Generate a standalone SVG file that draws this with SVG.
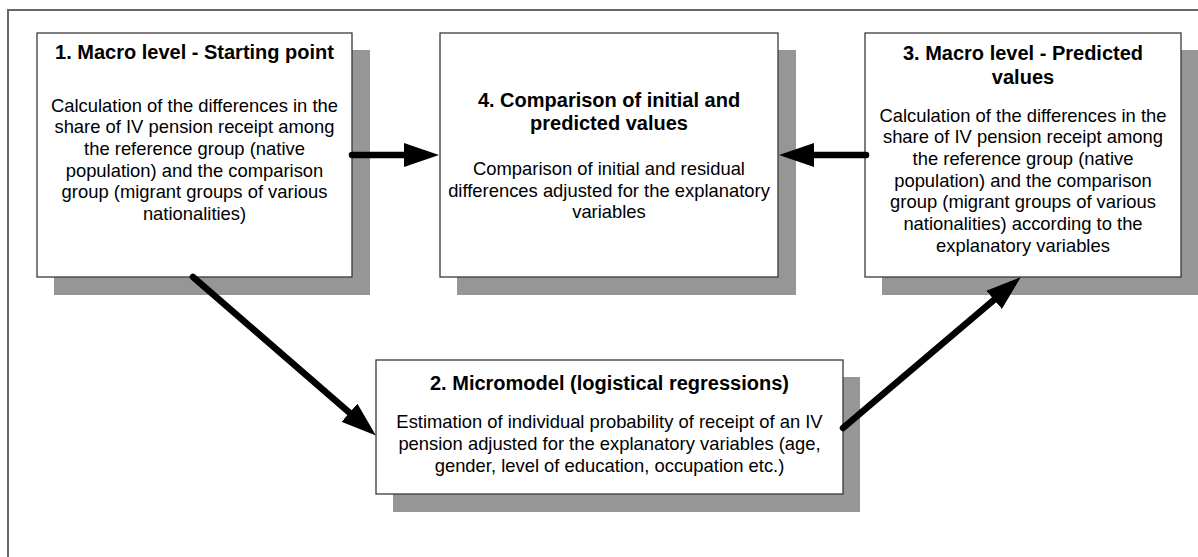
<svg xmlns="http://www.w3.org/2000/svg" width="1198" height="557" viewBox="0 0 1198 557">
<style>
.shadow{fill:#969696}
.box{fill:#fff;stroke:#3a3a3a;stroke-width:1.3}
.t{font-family:"Liberation Sans",Arial,sans-serif;font-size:20px;font-weight:bold;fill:#000;text-anchor:middle}
.b{font-family:"Liberation Sans",Arial,sans-serif;font-size:18.4px;fill:#000;text-anchor:middle}
.c{fill:none;stroke:#000;stroke-width:6.5;stroke-linecap:round;marker-end:url(#ah)}
</style>
<defs>
<marker id="ah" viewBox="0 0 35 24" refX="2" refY="12" markerWidth="35" markerHeight="24" markerUnits="userSpaceOnUse" orient="auto">
<path d="M0,0 L35,12 L0,24 z" fill="#000"/>
</marker>
</defs>
<rect width="1198" height="557" fill="#fff"/>
<path d="M8,557 V10 H1198" fill="none" stroke="#666" stroke-width="2"/>
<g id="node1">
<rect class="shadow" x="54" y="50" width="316" height="245"/>
<rect class="box" x="37" y="33" width="315" height="244"/>
<text class="t" x="194.5" y="59">1. Macro level - Starting point</text>
<text class="b" x="194.5" y="111.5">Calculation of the differences in the</text>
<text class="b" x="194.5" y="133.2">share of IV pension receipt among</text>
<text class="b" x="194.5" y="154.9">the reference group (native</text>
<text class="b" x="194.5" y="176.6">population) and the comparison</text>
<text class="b" x="194.5" y="198.3">group (migrant groups of various</text>
<text class="b" x="194.5" y="220">nationalities)</text>
</g>
<g id="node4">
<rect class="shadow" x="457" y="50" width="339" height="245"/>
<rect class="box" x="440" y="33" width="338" height="244"/>
<text class="t" x="609" y="107">4. Comparison of initial and</text>
<text class="t" x="609" y="130">predicted values</text>
<text class="b" x="609" y="175">Comparison of initial and residual</text>
<text class="b" x="609" y="196.5">differences adjusted for the explanatory</text>
<text class="b" x="609" y="218">variables</text>
</g>
<g id="node3">
<rect class="shadow" x="882" y="50" width="316" height="245"/>
<rect class="box" x="865" y="33" width="316" height="244"/>
<text class="t" x="1023" y="60">3. Macro level - Predicted</text>
<text class="t" x="1023" y="84">values</text>
<text class="b" x="1023" y="121.5">Calculation of the differences in the</text>
<text class="b" x="1023" y="143">share of IV pension receipt among</text>
<text class="b" x="1023" y="165">the reference group (native</text>
<text class="b" x="1023" y="186.5">population) and the comparison</text>
<text class="b" x="1023" y="208">group (migrant groups of various</text>
<text class="b" x="1023" y="230">nationalities) according to the</text>
<text class="b" x="1023" y="251.5">explanatory variables</text>
</g>
<g id="node2">
<rect class="shadow" x="393" y="377" width="467" height="135"/>
<rect class="box" x="376" y="360" width="467" height="134"/>
<text class="t" x="609.5" y="390">2. Micromodel (logistical regressions)</text>
<text class="b" x="609.5" y="427.5">Estimation of individual probability of receipt of an IV</text>
<text class="b" x="609.5" y="449.5">pension adjusted for the explanatory variables (age,</text>
<text class="b" x="609.5" y="471.5">gender, level of education, occupation etc.)</text>
</g>
<g id="connectors">
<path class="c" d="M352,155 H406"/>
<path class="c" d="M866,155 H812"/>
<path class="c" d="M193,277 L351,414"/>
<path class="c" d="M843,428 L995.6,298.5"/>
</g>
</svg>
